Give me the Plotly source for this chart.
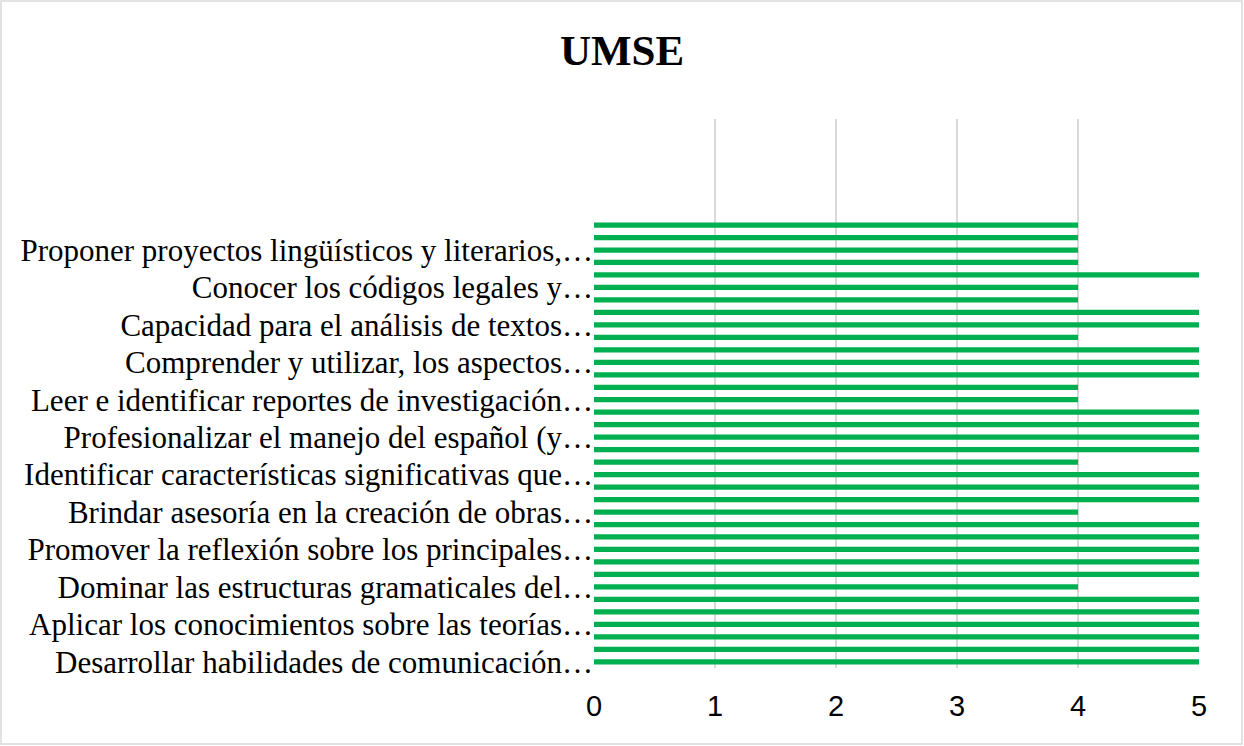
import plotly.graph_objects as go

# etiquetas visibles del eje (de abajo hacia arriba, una cada tres barras)
competencias = [
    "Desarrollar habilidades de comunicación…",
    "Aplicar los conocimientos sobre las teorías…",
    "Dominar las estructuras gramaticales del…",
    "Promover la reflexión sobre los principales…",
    "Brindar asesoría en la creación de obras…",
    "Identificar características significativas que…",
    "Profesionalizar el manejo del español (y…",
    "Leer e identificar reportes de investigación…",
    "Comprender y utilizar, los aspectos…",
    "Capacidad para el análisis de textos…",
    "Conocer los códigos legales y…",
    "Proponer proyectos lingüísticos y literarios,…",
]

# puntajes de abajo hacia arriba
puntajes = [5, 5, 5, 5, 5, 5, 4, 5, 5, 5, 5, 5,
            4, 5, 5, 5, 4, 5, 5, 5, 5, 4, 4, 5,
            5, 5, 4, 5, 5, 4, 4, 5, 4, 4, 4, 4]

x_ticks = [0, 1, 2, 3, 4, 5]
n_casillas = 44  # el eje de categorias deja casillas vacias arriba

posiciones = list(range(len(puntajes)))
tick_pos = posiciones[::3]

fig = go.Figure()
fig.add_trace(go.Bar(
    x=puntajes,
    y=posiciones,
    orientation="h",
    marker=dict(color="#00B050", line=dict(width=0)),
    showlegend=False,
))

fig.update_layout(
    width=1244,
    height=746,
    margin=dict(l=594, r=45, t=119, b=78),
    paper_bgcolor="white",
    plot_bgcolor="white",
    bargap=0.58,
    title=dict(
        text="<b>UMSE</b>",
        x=0.5,
        xref="container",
        y=0.933,
        yanchor="middle",
        font=dict(family="Liberation Serif", size=43, color="black"),
    ),
    xaxis=dict(
        range=[0, 5],
        tickvals=x_ticks,
        showgrid=True,
        gridcolor="#D9D9D9",
        gridwidth=1.5,
        zeroline=False,
        showline=False,
        ticks="",
        ticklabelstandoff=18,
        tickfont=dict(family="Liberation Sans", size=29, color="black"),
    ),
    yaxis=dict(
        range=[-0.5, n_casillas - 0.5],
        tickvals=tick_pos,
        ticktext=competencias,
        showgrid=False,
        zeroline=False,
        showline=False,
        ticks="",
        ticklabelstandoff=0,
        tickfont=dict(family="Liberation Serif", size=31, color="black"),
    ),
)

# marco gris del grafico
fig.add_shape(
    type="rect",
    xref="paper", yref="paper",
    x0=(1 - 594) / 605, x1=(1242 - 594) / 605,
    y0=(668 - 744) / 549, y1=(668 - 1) / 549,
    line=dict(color="#D9D9D9", width=1.5),
    fillcolor="rgba(0,0,0,0)",
    layer="below",
)

fig.write_html("out.html", config={"displayModeBar": False},
               post_script="document.body.style.margin='0';")
